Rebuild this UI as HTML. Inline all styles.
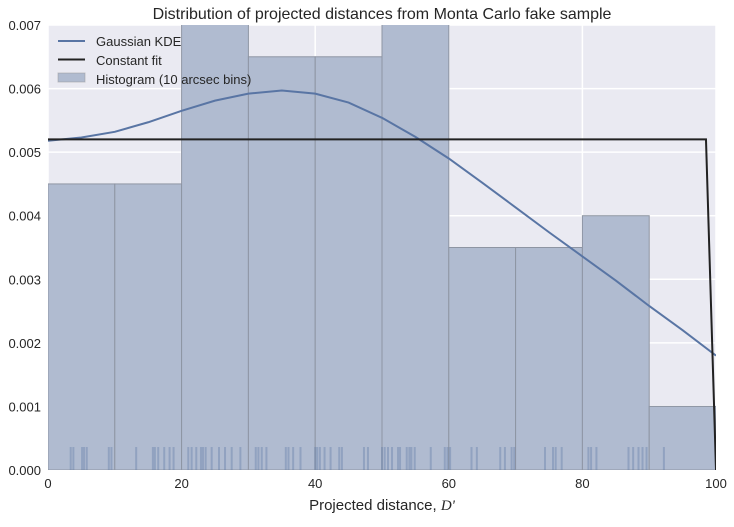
<!DOCTYPE html>
<html><head><meta charset="utf-8"><style>
body{margin:0;background:#fff;}
svg text{font-family:"Liberation Sans",Arial,sans-serif;fill:#262626;}
</style></head><body>
<svg id="chart" width="734" height="522" xmlns="http://www.w3.org/2000/svg">
<defs><clipPath id="clip"><rect x="48" y="25" width="668" height="445"/></clipPath></defs>
<rect x="48" y="25" width="668" height="445" fill="#EAEAF2"/>
<g id="grid"></g>
<g id="bars" clip-path="url(#clip)"></g>
<g id="rug" clip-path="url(#clip)"></g>
<g id="lines" clip-path="url(#clip)"></g>
<g id="ticks"></g>
<text x="382" y="19" font-size="16" text-anchor="middle">Distribution of projected distances from Monta Carlo fake sample</text>
<text x="382" y="510" font-size="15" text-anchor="middle">Projected distance, <tspan font-style="italic" font-family="Liberation Serif, serif">D'</tspan></text>
<g>
<line x1="58" y1="41" x2="85" y2="41" stroke="#5975A4" stroke-width="2"/>
<text x="96" y="46" font-size="13">Gaussian KDE</text>
<line x1="58" y1="59.5" x2="85" y2="59.5" stroke="#222" stroke-width="2"/>
<text x="96" y="65" font-size="13">Constant fit</text>
<rect x="58" y="73" width="27" height="9" fill="#B0BBD0" stroke="#999" stroke-opacity="0.5"/>
<text x="96" y="84" font-size="13">Histogram (10 arcsec bins)</text>
</g>
</svg>
<script>
const binEdges=[0,10,20,30,40,50,60,70,80,90,100];
const binHeights=[0.0045,0.0045,0.0075,0.0065,0.0065,0.0075,0.0035,0.0035,0.004,0.001];
const kdeX=[0,5,10,15,20,25,30,35,40,45,50,55,60,65,70,75,80,85,90,95,100];
const kdeY=[0.00518,0.00523,0.00532,0.00547,0.00565,0.00581,0.00592,0.00597,0.00592,0.00578,0.00554,0.00524,0.0049,0.00452,0.00413,0.00374,0.00336,0.00298,0.00258,0.0022,0.0018];
const constX=[0,98.5,100];
const constY=[0.0052,0.0052,0];
const rugValues=[3.4,3.8,5.1,5.4,5.8,9.1,9.5,13.2,15.7,16.0,16.5,17.4,18.2,18.8,21.0,21.5,22.2,22.9,23.2,23.6,24.5,25.6,26.5,27.5,28.8,31.1,31.5,32.0,32.7,35.6,36.0,36.7,37.8,40.0,40.3,40.7,41.4,42.3,43.6,44.0,47.3,47.9,50.0,50.4,50.9,51.5,52.4,52.7,53.7,54.1,54.4,54.9,57.3,59.4,59.8,60.2,63.4,64.2,67.7,68.4,69.4,69.8,74.4,75.6,76.0,76.9,80.9,81.3,82.1,86.9,87.6,88.4,89.0,89.6,92.2];
const xTicks=[0,20,40,60,80,100];
const yTicks=[0,0.001,0.002,0.003,0.004,0.005,0.006,0.007];
const NS="http://www.w3.org/2000/svg";
const X=v=>48+v*6.68;
const Y=v=>470-v*(445/0.007);
function mk(tag,parent,attrs){const e=document.createElementNS(NS,tag);for(const k in attrs)e.setAttribute(k,attrs[k]);document.getElementById(parent).appendChild(e);return e;}
xTicks.forEach(t=>{
 const l=mk('line','grid',{x1:X(t),x2:X(t),y1:25,y2:470,stroke:'#fff','stroke-width':1.5});
 
 
 const tx=mk('text','ticks',{x:X(t),y:488,'font-size':13,'text-anchor':'middle'});tx.textContent=t;
 
 
});
yTicks.forEach(t=>{
 const l=mk('line','grid',{x1:48,x2:716,y1:Y(t),y2:Y(t),stroke:'#fff','stroke-width':1.5});
 
 
 const tx=mk('text','ticks',{x:41,y:Y(t)+5,'font-size':13,'text-anchor':'end'});tx.textContent=t.toFixed(3);
 
 
});
binHeights.forEach((h,i)=>{
 const r=mk('rect','bars',{x:X(binEdges[i]),y:Y(h),width:X(binEdges[i+1])-X(binEdges[i]),height:Y(0)-Y(h),fill:'#B0BBD0',stroke:'#8E95A3','stroke-width':1});
 
 
});
rugValues.forEach(v=>{
 const l=mk('line','rug',{x1:X(v),x2:X(v),y1:447,y2:470,stroke:'#5975A4','stroke-opacity':0.35,'stroke-width':2});
 
 
});
const kp=mk('polyline','lines',{points:kdeX.map((x,i)=>X(x)+','+Y(kdeY[i])).join(' '),fill:'none',stroke:'#5975A4','stroke-width':2});


const cp=mk('polyline','lines',{points:constX.map((x,i)=>X(x)+','+Y(constY[i])).join(' '),fill:'none',stroke:'#222','stroke-width':2});


</script>
</body></html>
